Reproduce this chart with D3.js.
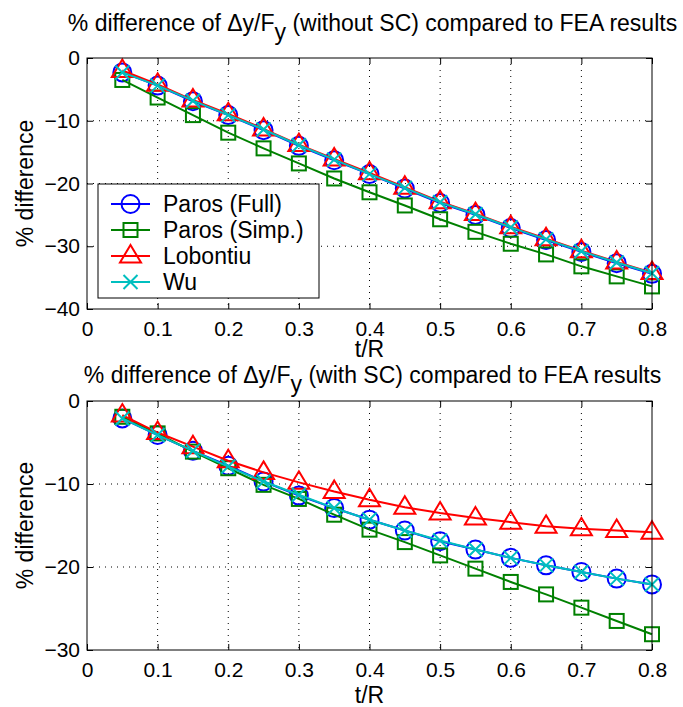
<!DOCTYPE html>
<html>
<head>
<meta charset="utf-8">
<script src="https://cdn.jsdelivr.net/npm/d3@7"></script>
<style>
  body { margin: 0; background: #fff; }
  svg { font-family: "Liberation Sans", Arial, sans-serif; }
</style>
</head>
<body>
<div id="chart"></div>
<script>
// t/R values
const tVals = [0.05, 0.1, 0.15, 0.2, 0.25, 0.3, 0.35, 0.4, 0.45, 0.5, 0.55, 0.6, 0.65, 0.7, 0.75, 0.8];
const xTicks = [0, 0.1, 0.2, 0.3, 0.4, 0.5, 0.6, 0.7, 0.8];

// without SC
const topFull = [-2.3, -4.4, -6.9, -9.1, -11.5, -14.0, -16.3, -18.5, -20.8, -23.1, -25.0, -27.1, -29.0, -30.9, -32.7, -34.4];
const topSimp = [-3.5, -6.3, -9.1, -11.9, -14.4, -16.8, -19.2, -21.4, -23.5, -25.7, -27.7, -29.6, -31.3, -33.2, -34.8, -36.4];
const topLob  = [-2.0, -4.2, -6.7, -8.9, -11.3, -13.8, -16.1, -18.3, -20.6, -22.9, -24.8, -26.9, -28.8, -30.7, -32.5, -34.2];
const topWu   = [-2.3, -4.4, -6.8, -9.1, -11.4, -13.9, -16.2, -18.5, -20.7, -23.0, -24.9, -27.0, -28.9, -30.8, -32.6, -34.3];
const topYTicks = [0, -10, -20, -30, -40];

// with SC
const botFull = [-2.1, -4.1, -6.0, -7.8, -9.7, -11.4, -12.9, -14.3, -15.6, -16.9, -17.9, -18.9, -19.8, -20.6, -21.4, -22.1];
const botSimp = [-1.9, -3.9, -6.1, -8.1, -10.1, -11.8, -13.7, -15.5, -17.0, -18.6, -20.2, -21.8, -23.3, -24.9, -26.5, -28.1];
const botLob  = [-1.7, -3.8, -5.5, -7.2, -8.6, -9.8, -10.9, -11.9, -12.8, -13.5, -14.1, -14.6, -15.1, -15.4, -15.6, -15.8];
const botWu   = [-2.1, -4.1, -6.0, -7.9, -9.7, -11.3, -12.9, -14.3, -15.6, -16.8, -17.9, -18.9, -19.8, -20.6, -21.4, -22.1];
const botYTicks = [0, -10, -20, -30];

const seriesNames = ["Paros (Full)", "Paros (Simp.)", "Lobontiu", "Wu"];
const seriesColors = ["#0000ff", "#008000", "#ff0000", "#00bfbf"];
const seriesMarkers = ["circle", "square", "triangle", "x"];

const W = 683, H = 707;
const svg = d3.select("#chart").append("svg").attr("width", W).attr("height", H);

const minus = s => String(s).replace("-", "\u2212");

function marker(g, type, color) {
  if (type === "circle") {
    g.append("circle").attr("r", 9).attr("fill", "none").attr("stroke", color).attr("stroke-width", 2);
  } else if (type === "square") {
    g.append("rect").attr("x", -7).attr("y", -7).attr("width", 14).attr("height", 14)
      .attr("fill", "none").attr("stroke", color).attr("stroke-width", 2);
  } else if (type === "triangle") {
    g.append("path").attr("d", "M0,-11L10.5,6.5L-10.5,6.5Z")
      .attr("fill", "none").attr("stroke", color).attr("stroke-width", 2);
  } else {
    g.append("path").attr("d", "M-7,-7L7,7M-7,7L7,-7")
      .attr("fill", "none").attr("stroke", color).attr("stroke-width", 2);
  }
}

function panel(opts) {
  const { left, top, width, height, yDomain, yTicks, series, title, titleY, xlabelY, legend } = opts;
  const x = d3.scaleLinear().domain([0, 0.8]).range([left, left + width]);
  const y = d3.scaleLinear().domain(yDomain).range([top + height, top]);
  const g = svg.append("g");

  // grid
  g.append("g").selectAll("line.gx").data(xTicks.slice(1, -1)).enter().append("line")
    .attr("x1", d => x(d)).attr("x2", d => x(d)).attr("y1", top).attr("y2", top + height)
    .attr("stroke", "#000").attr("stroke-width", 1).attr("stroke-dasharray", "1,5");
  g.append("g").selectAll("line.gy").data(yTicks.slice(1, -1)).enter().append("line")
    .attr("y1", d => y(d)).attr("y2", d => y(d)).attr("x1", left).attr("x2", left + width)
    .attr("stroke", "#000").attr("stroke-width", 1).attr("stroke-dasharray", "1,5");

  // axes with inner ticks on all sides
  const tl = 6;
  g.append("g").attr("transform", `translate(0,${top + height})`)
    .call(d3.axisBottom(x).tickValues(xTicks).tickSize(-tl).tickPadding(12).tickFormat(d => d === 0 ? "0" : d3.format(".1f")(d)))
    .call(a => { a.select(".domain").remove(); a.selectAll("text").attr("font-size", 21).attr("font-family", "Liberation Sans, Arial"); });
  g.append("g").attr("transform", `translate(0,${top})`)
    .call(d3.axisTop(x).tickValues(xTicks).tickSize(-tl).tickFormat(""))
    .call(a => a.select(".domain").remove());
  g.append("g").attr("transform", `translate(${left},0)`)
    .call(d3.axisLeft(y).tickValues(yTicks).tickSize(-tl).tickPadding(7).tickFormat(d => minus(d)))
    .call(a => { a.select(".domain").remove(); a.selectAll("text").attr("font-size", 21).attr("font-family", "Liberation Sans, Arial"); });
  g.append("g").attr("transform", `translate(${left + width},0)`)
    .call(d3.axisRight(y).tickValues(yTicks).tickSize(-tl).tickFormat(""))
    .call(a => a.select(".domain").remove());
  g.selectAll(".tick line").attr("stroke", "#000").attr("stroke-width", 1);

  // series
  series.forEach((vals, i) => {
    const pts = tVals.map((t, j) => [t, vals[j]]);
    const line = d3.line().x(d => x(d[0])).y(d => y(d[1]));
    g.append("path").datum(pts).attr("d", line).attr("fill", "none")
      .attr("stroke", seriesColors[i]).attr("stroke-width", 2);
    pts.forEach(p => {
      const m = g.append("g").attr("transform", `translate(${x(p[0])},${y(p[1])})`);
      marker(m, seriesMarkers[i], seriesColors[i]);
    });
  });

  // box
  g.append("rect").attr("x", left).attr("y", top).attr("width", width).attr("height", height)
    .attr("fill", "none").attr("stroke", "#000").attr("stroke-width", 1);

  // title
  const tt = g.append("text").attr("x", left + width / 2 + 3).attr("y", titleY)
    .attr("text-anchor", "middle").attr("font-size", 23);
  tt.append("tspan").text("% difference of \u0394y/F");
  tt.append("tspan").attr("dy", 9).text("y");
  tt.append("tspan").attr("dy", -9).text(title);

  // axis labels
  g.append("text").attr("x", left + width / 2).attr("y", xlabelY)
    .attr("text-anchor", "middle").attr("font-size", 23).text("t/R");
  g.append("text").attr("transform", `translate(${left - 54},${top + height / 2}) rotate(-90)`)
    .attr("text-anchor", "middle").attr("font-size", 23).text("% difference");

  if (legend) {
    const lg = g.append("g").attr("transform", `translate(${legend.x},${legend.y})`);
    lg.append("rect").attr("width", legend.w).attr("height", legend.h)
      .attr("fill", "#fff").attr("stroke", "#000").attr("stroke-width", 1);
    seriesNames.forEach((name, i) => {
      const ry = 20 + i * 26;
      lg.append("line").attr("x1", 13).attr("x2", 52).attr("y1", ry).attr("y2", ry)
        .attr("stroke", seriesColors[i]).attr("stroke-width", 2);
      const m = lg.append("g").attr("transform", `translate(32.5,${ry})`);
      marker(m, seriesMarkers[i], seriesColors[i]);
      lg.append("text").attr("x", 65).attr("y", ry + 8).attr("font-size", 23).text(name);
    });
  }
}

panel({
  left: 87, top: 58, width: 565, height: 251,
  yDomain: [-40, 0], yTicks: topYTicks,
  series: [topFull, topSimp, topLob, topWu],
  title: " (without SC) compared to FEA results",
  titleY: 31, xlabelY: 357,
  legend: { x: 98, y: 184, w: 221, h: 114 }
});

panel({
  left: 87, top: 401, width: 565, height: 249,
  yDomain: [-30, 0], yTicks: botYTicks,
  series: [botFull, botSimp, botLob, botWu],
  title: " (with SC) compared to FEA results",
  titleY: 383, xlabelY: 703,
  legend: null
});
</script>
</body>
</html>
